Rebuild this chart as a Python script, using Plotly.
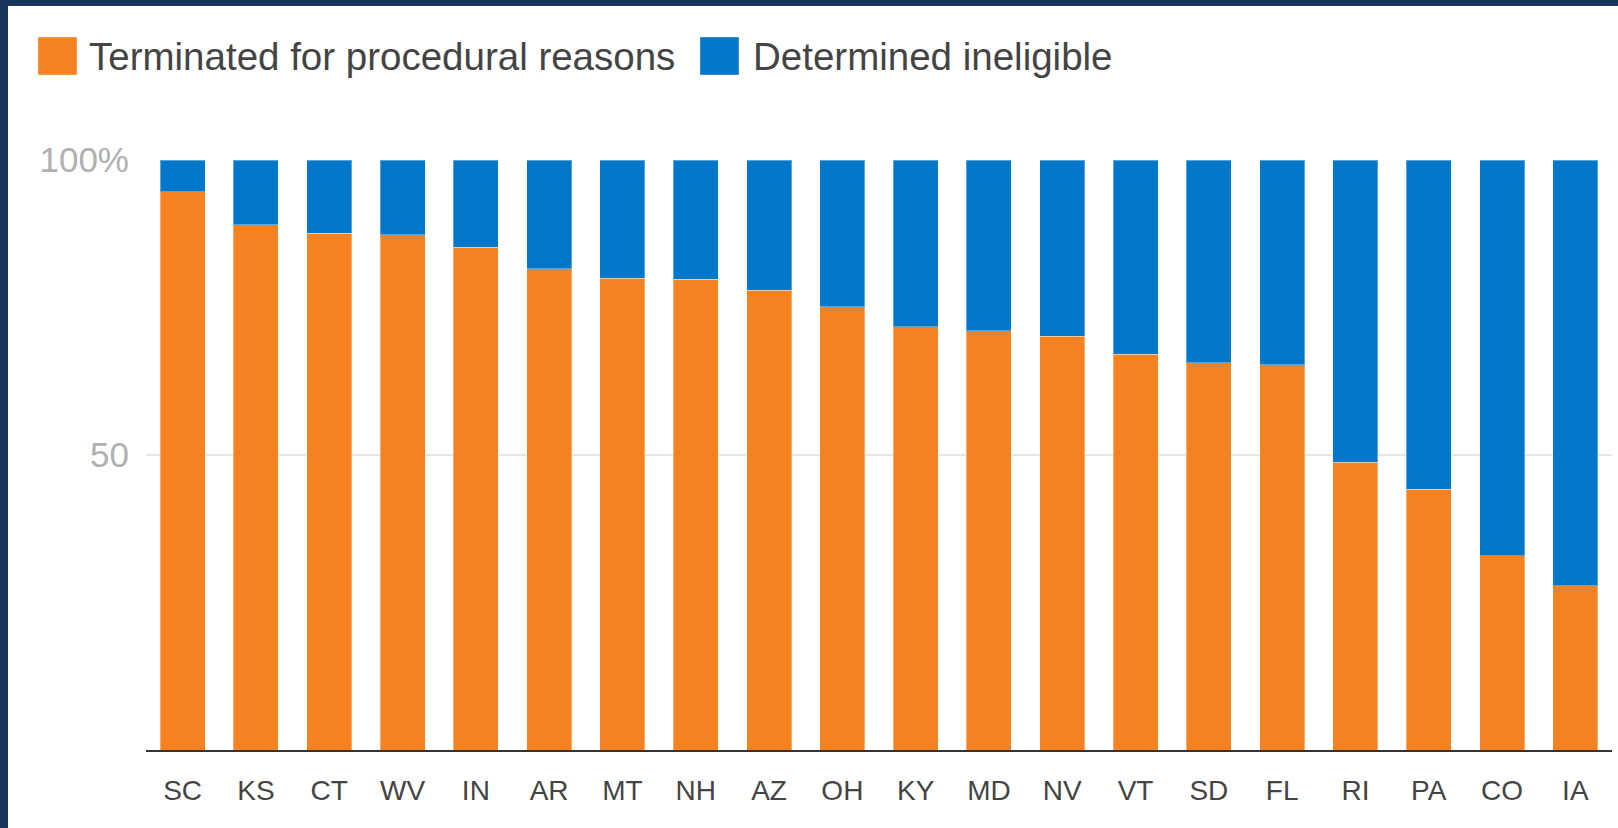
import plotly.graph_objects as go

states = ["SC", "KS", "CT", "WV", "IN", "AR", "MT", "NH", "AZ", "OH",
          "KY", "MD", "NV", "VT", "SD", "FL", "RI", "PA", "CO", "IA"]
procedural = [94.6, 89.0, 87.6, 87.3, 85.2, 81.6, 80.0, 79.8, 77.9, 75.1,
              71.7, 71.1, 70.1, 67.1, 65.6, 65.3, 48.8, 44.2, 32.9, 27.8]
ineligible = [round(100 - v, 1) for v in procedural]
series_names = ["Terminated for procedural reasons", "Determined ineligible"]
ytick_vals = [50, 100]
ytick_text = ["50", "100%"]

ORANGE = "#F58220"
BLUE = "#0077C8"
NAVY = "#17365D"
FONT = "Liberation Sans, Arial, sans-serif"

W, H = 1618, 828
L, R, T, B = 146, 6, 160, 78
PW, PH = W - L - R, H - T - B


def px(x):
    return (x - L) / PW


def py(y):
    return (H - B - y) / PH


fig = go.Figure()
fig.add_bar(x=states, y=procedural, name=series_names[0],
            marker=dict(color=ORANGE, line=dict(color="rgba(255,255,255,0.35)", width=1)))
fig.add_bar(x=states, y=ineligible, name=series_names[1],
            marker=dict(color=BLUE, line=dict(color="rgba(255,255,255,0.35)", width=1)))

shapes = [
    # frame
    dict(type="rect", xref="paper", yref="paper", x0=px(0), x1=px(W), y0=py(0), y1=py(6),
         fillcolor=NAVY, line=dict(width=0), layer="above"),
    dict(type="rect", xref="paper", yref="paper", x0=px(0), x1=px(8), y0=py(0), y1=py(H),
         fillcolor=NAVY, line=dict(width=0), layer="above"),
    dict(type="rect", xref="paper", yref="paper", x0=px(W - 5), x1=px(W), y0=py(6), y1=py(H),
         fillcolor="white", line=dict(width=0), layer="above"),
    # legend swatches
    dict(type="rect", xref="paper", yref="paper", x0=px(38), x1=px(77), y0=py(37), y1=py(75),
         fillcolor=ORANGE, line=dict(color="rgba(255,255,255,0.35)", width=1)),
    dict(type="rect", xref="paper", yref="paper", x0=px(700), x1=px(739), y0=py(37), y1=py(75),
         fillcolor=BLUE, line=dict(color="rgba(255,255,255,0.35)", width=1)),
]
annotations = [
    dict(xref="paper", yref="paper", x=px(87), y=py(57), xanchor="left", yanchor="middle",
         text=series_names[0], showarrow=False, font=dict(family=FONT, size=38.5, color="#444444")),
    dict(xref="paper", yref="paper", x=px(751), y=py(57), xanchor="left", yanchor="middle",
         text=series_names[1], showarrow=False, font=dict(family=FONT, size=38.5, color="#444444")),
]

fig.update_layout(
    width=W, height=H,
    margin=dict(l=L, r=R, t=T, b=B, pad=0),
    barmode="stack",
    bargap=0.386,
    paper_bgcolor="white",
    plot_bgcolor="white",
    showlegend=False,
    shapes=shapes,
    annotations=annotations,
    font=dict(family=FONT),
    xaxis=dict(
        showline=True, linecolor="#333333", linewidth=2,
        showgrid=False, ticks="", tickfont=dict(family=FONT, size=28, color="#444444"),
        ticklabelstandoff=14, fixedrange=True,
    ),
    yaxis=dict(
        range=[0, 100], tickvals=ytick_vals, ticktext=ytick_text,
        showgrid=True, gridcolor="#e6e6e6", gridwidth=2,
        zeroline=False, showline=False, ticks="",
        tickfont=dict(family=FONT, size=35, color="#b0b0b0"),
        ticklabelstandoff=16, fixedrange=True,
    ),
)

fig.write_html(
    "out.html",
    config={"displayModeBar": False},
    post_script="document.body.style.margin='0';document.body.style.overflow='hidden';",
)
